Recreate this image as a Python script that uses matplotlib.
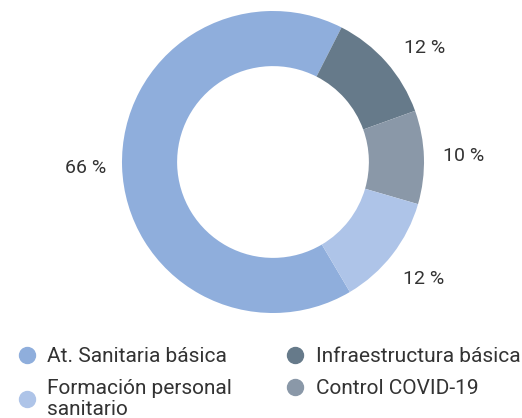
import matplotlib.pyplot as plt
from matplotlib.lines import Line2D

plt.rcParams['font.family'] = ['Roboto', 'DejaVu Sans']

# Datos (orden de las porciones en sentido horario)
categorias = ["At. Sanitaria básica", "Infraestructura básica", "Control COVID-19",
              "Formación personal\nsanitario"]
valores = [66, 12, 10, 12]
colores = ["#8FAEDC", "#667A8A", "#8A98A8", "#AEC4E8"]

W, H = 522, 418
fig = plt.figure(figsize=(W / 100, H / 100), dpi=100)

# centro y radio del anillo en pixeles
cx, cy, R = 273, 162, 151
lim = 1.3
ax = fig.add_axes([(cx - lim * R) / W, 1 - (cy + lim * R) / H, 2 * lim * R / W, 2 * lim * R / H])

wedges, textos, pcts = ax.pie(valores, colors=colores, startangle=-59.4, counterclock=False,
                              radius=1, wedgeprops=dict(width=0.365, linewidth=0),
                              autopct=lambda p: f"{p:.0f} %", pctdistance=1.26)
for t in pcts:
    t.set_fontsize(14)
    t.set_color("#333333")
# la etiqueta de arriba queda algo mas abajo en el original
x0, y0 = pcts[1].get_position()
pcts[1].set_position((x0 + 0.06, y0 - 0.08))
x0, y0 = pcts[0].get_position()
pcts[0].set_position((x0 + 0.02, y0))

ax.set_xlim(-lim, lim)
ax.set_ylim(-lim, lim)
ax.set_aspect('auto')

# Leyenda (dos columnas)
orden = [0, 3, 1, 2]
handles = [Line2D([], [], marker='o', linestyle='', markersize=11.5, color=colores[i]) for i in orden]
labels = [categorias[i] for i in orden]
leg = fig.legend(handles, labels, ncol=2, loc='upper left', bbox_to_anchor=(0.0345, 0.169),
                 frameon=False, fontsize=15, handletextpad=0.56, columnspacing=2.6,
                 labelspacing=0.62, handlelength=0.85, borderpad=0, borderaxespad=0,
                 labelcolor="#333333")
for t in leg.get_texts():
    t.set_linespacing(1.1)

fig.savefig("out.png", dpi=100)
